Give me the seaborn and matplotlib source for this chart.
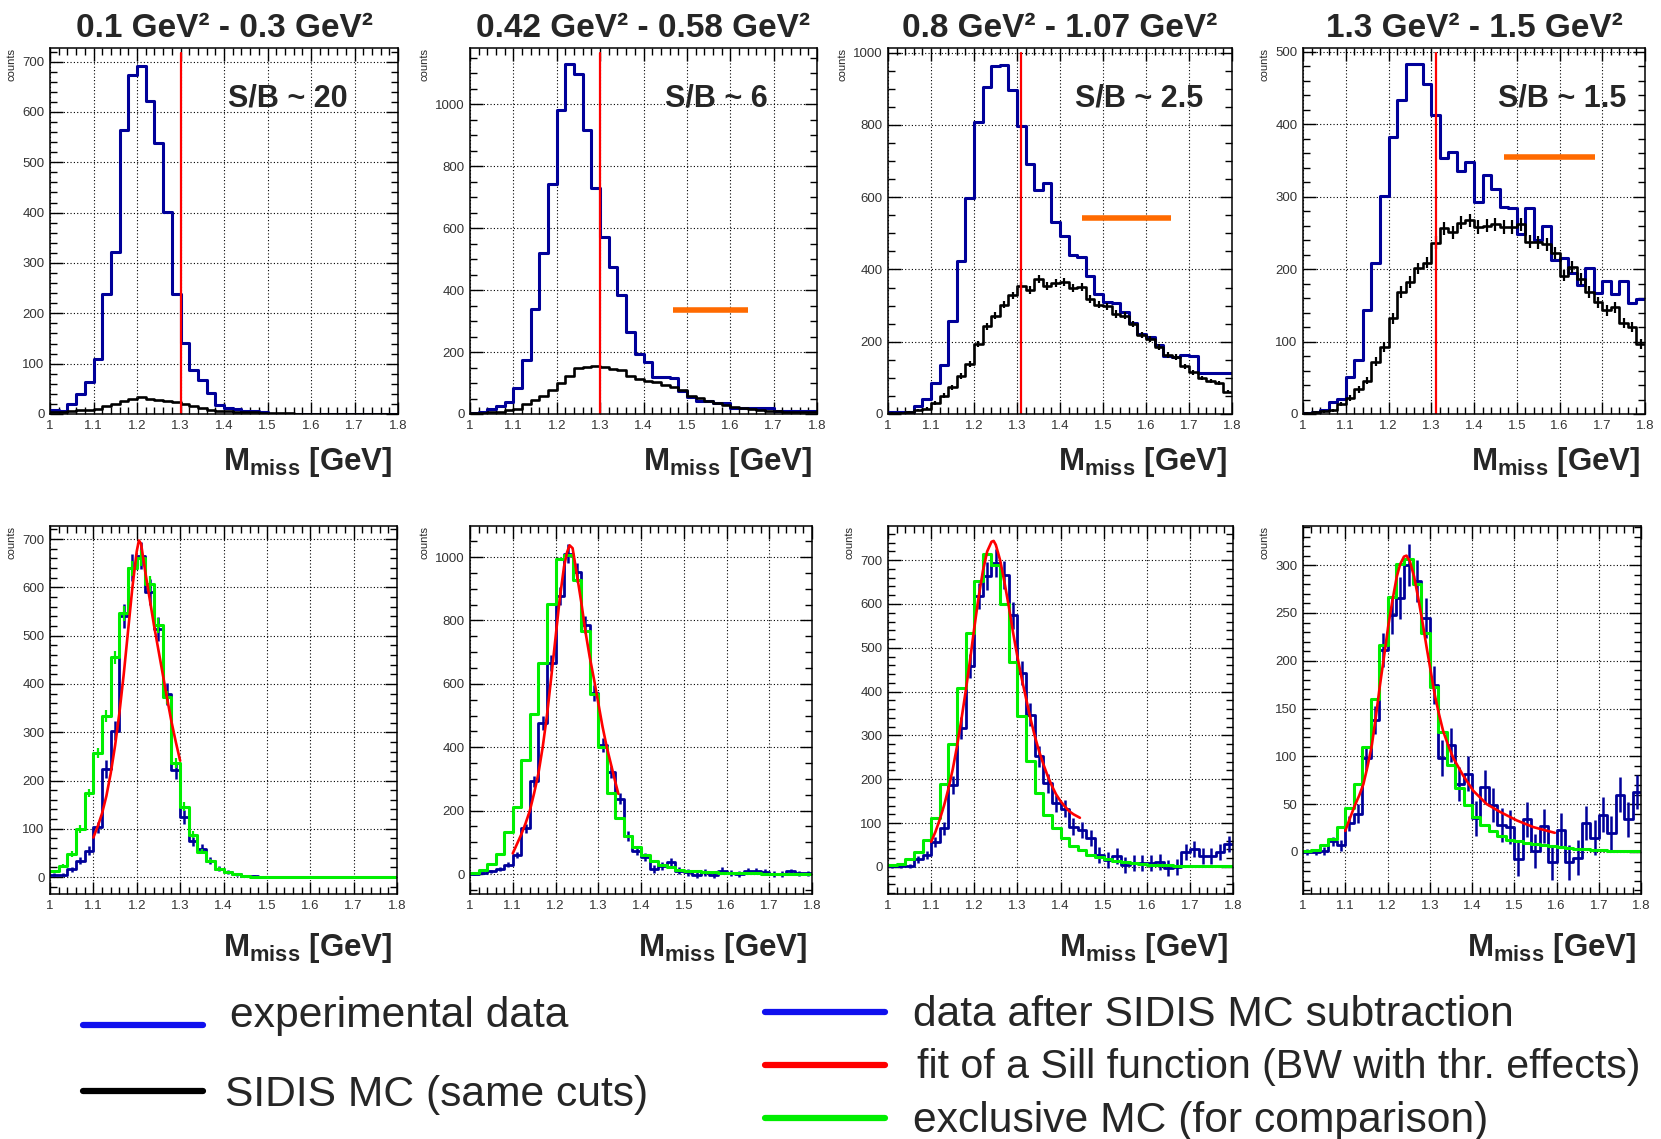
import numpy as np
import matplotlib
matplotlib.use('Agg')
import matplotlib.pyplot as plt
import seaborn as sns
from matplotlib.lines import Line2D
from matplotlib.ticker import MultipleLocator, FuncFormatter

sns.set_style('ticks')
plt.rcParams['font.family'] = ['Liberation Sans', 'DejaVu Sans']
plt.rcParams['mathtext.fontset'] = 'custom'
plt.rcParams['mathtext.rm'] = 'Liberation Sans'
plt.rcParams['mathtext.bf'] = 'Liberation Sans:bold'

# ---- binning (40 bins of 20 MeV) ----
bin_edges = list(np.linspace(1.0, 1.8, 41))
bin_centers = 0.5 * (np.array(bin_edges[:-1]) + np.array(bin_edges[1:]))

titles = ['0.1 GeV\u00b2 - 0.3 GeV\u00b2', '0.42 GeV\u00b2 - 0.58 GeV\u00b2',
          '0.8 GeV\u00b2 - 1.07 GeV\u00b2', '1.3 GeV\u00b2 - 1.5 GeV\u00b2']
sb_labels = ['S/B ~ 20', 'S/B ~ 6', 'S/B ~ 2.5', 'S/B ~ 1.5']
cut_x = [1.30, 1.30, 1.31, 1.31]
bar_y = [None, 334, 542, 355]
bar_x0 = [None, 1.469, 1.45, 1.471]
bar_x1 = [None, 1.642, 1.659, 1.683]

# ---- top row: experimental data (blue) and SIDIS MC (black) ----
exp_q1 = [7, 5, 20, 40, 63, 109, 238, 322, 565, 674, 692, 621, 538, 401, 239, 142, 88, 67, 42, 18,
          11, 10, 6, 5, 3, 0, 0, 0, 0, 0, 0, 0, 0, 0, 0, 0, 0, 0, 0, 0]
sidis_q1 = [4, 4, 5, 7, 8, 9, 15, 20, 25, 30, 34, 30, 28, 25, 23, 20, 15, 11, 7, 5,
            5, 4, 3, 3, 2, 1, 1, 1, 0, 0, 0, 0, 0, 0, 0, 0, 0, 0, 0, 0]
exp_q2 = [3, 5, 16, 27, 38, 83, 175, 338, 521, 743, 980, 1129, 1097, 916, 730, 570, 474, 383, 263, 194,
          167, 121, 119, 117, 75, 54, 43, 43, 36, 36, 19, 19, 19, 19, 19, 9, 9, 9, 9, 9]
sidis_q2 = [2, 3, 5, 8, 13, 16, 32, 45, 59, 76, 99, 124, 148, 153, 156, 151, 146, 142, 124, 113,
            108, 102, 95, 86, 76, 59, 52, 43, 36, 29, 22, 18, 15, 13, 11, 9, 8, 7, 6, 5]
exp_q3 = [5, 6, 6, 21, 42, 86, 137, 258, 423, 597, 809, 904, 964, 967, 898, 798, 692, 621, 639, 532,
          494, 440, 434, 383, 332, 309, 307, 283, 252, 222, 212, 190, 160, 157, 163, 160, 114, 114, 114, 114]
sidis_q3 = [3, 4, 5, 10, 14, 30, 51, 74, 106, 138, 194, 243, 272, 302, 328, 354, 344, 374, 354, 363,
            366, 348, 351, 318, 302, 298, 277, 272, 249, 219, 208, 185, 163, 157, 132, 115, 99, 92, 86, 62]
err_sidis_q3 = [2, 2, 2, 3, 4, 5, 6, 7, 8, 9, 9, 10, 10, 10, 11, 11, 11, 11, 11, 11,
                11, 11, 11, 10, 10, 10, 10, 10, 9, 9, 9, 8, 8, 8, 7, 7, 6, 6, 6, 5]
exp_q4 = [2, 3, 5, 17, 21, 51, 74, 144, 208, 301, 382, 433, 483, 483, 455, 412, 353, 362, 335, 348,
          292, 330, 310, 286, 284, 248, 284, 240, 260, 212, 215, 194, 178, 201, 167, 183, 166, 184, 153, 159]
sidis_q4 = [2, 3, 4, 5, 14, 22, 34, 46, 72, 92, 132, 168, 182, 201, 209, 236, 256, 251, 264, 267,
            258, 260, 262, 258, 258, 262, 238, 237, 234, 222, 191, 203, 186, 168, 154, 143, 147, 126, 120, 97]
err_sidis_q4 = [1, 1, 2, 2, 3, 4, 5, 5, 6, 7, 8, 8, 8, 8, 8, 9, 9, 9, 9, 9,
                9, 9, 9, 9, 9, 9, 9, 9, 9, 8, 8, 8, 8, 8, 8, 8, 8, 7, 7, 7]

# ---- bottom row: data after subtraction (blue), exclusive MC (green), Sill fit (red) ----
sub_q1 = [5, 5, 16, 34, 55, 103, 224, 303, 541, 641, 665, 591, 514, 379, 221, 124, 74, 59, 34, 17,
          10, 6, 3, 3, 0, 0, 0, 0, 0, 0, 0, 0, 0, 0, 0, 0, 0, 0, 0, 0]
err_sub_q1 = [3, 3, 5, 7, 9, 12, 18, 20, 25, 28, 28, 27, 25, 22, 18, 14, 10, 9, 7, 5,
              4, 3, 2, 2, 0, 0, 0, 0, 0, 0, 0, 0, 0, 0, 0, 0, 0, 0, 0, 0]
excl_q1 = [12, 23, 48, 99, 174, 257, 334, 455, 546, 639, 661, 607, 521, 372, 236, 146, 88, 53, 34, 17,
           10, 7, 3, 1, 0, 0, 0, 0, 0, 0, 0, 0, 0, 0, 0, 0, 0, 0, 0, 0]
err_excl_q1 = [3, 4, 6, 8, 9, 11, 12, 14, 15, 16, 16, 16, 15, 13, 11, 9, 7, 5, 4, 3,
               2, 2, 1, 1, 0, 0, 0, 0, 0, 0, 0, 0, 0, 0, 0, 0, 0, 0, 0, 0]
fit_x_q1 = [1.10, 1.11, 1.12, 1.13, 1.14, 1.15, 1.16, 1.17, 1.18, 1.19, 1.20, 1.205, 1.21,
            1.22, 1.23, 1.24, 1.25, 1.26, 1.27, 1.28, 1.29, 1.30]
fit_y_q1 = [82, 105, 132, 168, 215, 272, 340, 420, 510, 600, 675, 697, 690,
            630, 575, 520, 470, 420, 370, 322, 280, 241]

sub_q2 = [0, 3, 8, 16, 29, 61, 145, 292, 475, 665, 876, 1010, 952, 787, 570, 406, 322, 238, 121, 74,
          53, 16, 26, 37, 11, 5, -2, 5, -2, 11, 3, 0, 11, 11, 7, 0, 0, 8, 3, 3]
err_sub_q2 = [2, 3, 4, 6, 8, 10, 14, 18, 22, 25, 28, 30, 30, 28, 25, 22, 20, 18, 16, 14,
              13, 12, 12, 12, 11, 10, 10, 10, 10, 10, 9, 9, 9, 9, 9, 8, 8, 8, 8, 8]
excl_q2 = [2, 13, 32, 63, 132, 213, 359, 504, 665, 852, 995, 1005, 929, 766, 567, 401, 257, 176, 121, 84,
           60, 42, 29, 21, 14, 11, 8, 7, 5, 4, 3, 2, 2, 2, 1, 1, 1, 1, 1, 1]
fit_x_q2 = [1.10, 1.11, 1.12, 1.13, 1.14, 1.15, 1.16, 1.17, 1.18, 1.19, 1.20, 1.21, 1.22, 1.227,
            1.233, 1.24, 1.25, 1.26, 1.27, 1.28, 1.29, 1.30, 1.31, 1.32, 1.33, 1.34, 1.347]
fit_y_q2 = [65, 95, 125, 160, 200, 255, 317, 400, 500, 620, 745, 870, 970, 1015,
            1037, 1028, 945, 860, 765, 685, 615, 540, 465, 400, 345, 290, 253]

sub_q3 = [2, 2, 2, 17, 27, 57, 88, 187, 317, 458, 618, 664, 694, 667, 574, 442, 347, 252, 191, 145,
          133, 92, 84, 65, 27, 15, 25, 4, 8, 8, 8, 11, -2, 0, 33, 40, 25, 25, 33, 53]
err_sub_q3 = [4, 4, 5, 8, 10, 12, 15, 20, 25, 28, 30, 32, 32, 32, 30, 28, 26, 24, 22, 20,
              20, 19, 19, 18, 18, 18, 18, 18, 18, 18, 18, 18, 18, 18, 18, 18, 18, 18, 18, 18]
excl_q3 = [4, 6, 17, 33, 61, 112, 189, 280, 408, 534, 652, 713, 688, 600, 468, 345, 242, 168, 118, 88,
           65, 48, 38, 28, 23, 18, 13, 10, 8, 6, 5, 5, 4, 3, 3, 3, 2, 2, 2, 2]
fit_x_q3 = [1.10, 1.11, 1.12, 1.13, 1.14, 1.15, 1.16, 1.17, 1.18, 1.19, 1.20, 1.21, 1.22, 1.23,
            1.24, 1.245, 1.25, 1.26, 1.27, 1.28, 1.29, 1.30, 1.31, 1.32, 1.33, 1.34, 1.35, 1.36,
            1.37, 1.38, 1.39, 1.40, 1.41, 1.42, 1.43, 1.445]
fit_y_q3 = [57, 80, 108, 140, 178, 222, 275, 335, 400, 470, 545, 615, 675, 720,
            742, 744, 735, 700, 650, 595, 535, 480, 430, 385, 340, 300, 265, 235,
            208, 185, 165, 150, 138, 127, 120, 112]

sub_q4 = [0, 0, 1, 11, 7, 30, 40, 98, 138, 211, 248, 266, 300, 283, 245, 175, 98, 112, 71, 82,
          35, 68, 49, 28, 26, -7, 34, 1, 27, -11, 23, -11, -6, 30, 15, 39, 20, 60, 34, 63]
err_sub_q4 = [3, 3, 4, 5, 6, 8, 10, 12, 15, 18, 20, 22, 22, 22, 21, 20, 19, 18, 18, 18,
              18, 18, 18, 18, 18, 18, 18, 18, 18, 18, 18, 18, 18, 18, 18, 18, 18, 18, 18, 18]
excl_q4 = [1, 2, 7, 14, 26, 46, 71, 110, 160, 216, 267, 301, 306, 280, 229, 173, 125, 91, 67, 49,
           37, 28, 22, 17, 13, 11, 9, 8, 7, 6, 5, 4, 3, 3, 2, 2, 1, 1, 1, 1]
fit_x_q4 = [1.10, 1.11, 1.123, 1.133, 1.143, 1.153, 1.163, 1.172, 1.182, 1.192, 1.202, 1.212, 1.222,
            1.23, 1.239, 1.245, 1.253, 1.263, 1.273, 1.283, 1.293, 1.30, 1.312, 1.322, 1.332, 1.345,
            1.356, 1.379, 1.403, 1.435, 1.466, 1.506, 1.545, 1.596]
fit_y_q4 = [22, 34, 49, 59, 71, 90, 112, 140, 174, 205, 237, 264, 288,
            301, 309, 310, 304, 288, 265, 240, 213, 195, 164, 144, 126, 110,
            98, 80, 64, 50, 42, 33, 26, 20]

# ---- layout (pixel boxes of the panels in the 1661x1139 canvas) ----
W, H = 1661, 1139
top_boxes = [(50, 398), (470, 817), (888, 1232), (1303, 1645)]
bot_boxes = [(50, 397), (470, 812), (888, 1233), (1303, 1641)]
top_ylims = [(0, 727), (0, 1181), (0, 1013), (0, 505)]
top_ystep = [(100, 20), (200, 50), (200, 50), (100, 20)]
bot_ylims = [(-35, 727), (-63, 1098), (-62, 778), (-44, 341)]
bot_ystep = [(100, 20), (200, 50), (100, 20), (50, 10)]

NAVY = '#000099'
GREEN = '#00ee00'
RED = '#ff0000'
ORANGE = '#ff6a00'

fig = plt.figure(figsize=(W / 100, H / 100), dpi=100)


def px_axes(x0, x1, ytop, ybot):
    return fig.add_axes([x0 / W, 1 - ybot / H, (x1 - x0) / W, (ybot - ytop) / H])


def step_hist(ax, vals, color, lw):
    sns.histplot(x=bin_centers, weights=vals, bins=bin_edges, element='step', fill=False,
                 color=color, linewidth=lw, ax=ax)


def style_axes(ax, ylim, ysteps, pad):
    ax.set_xlim(1.0, 1.8)
    ax.set_ylim(*ylim)
    ax.xaxis.set_major_locator(MultipleLocator(0.1))
    ax.xaxis.set_minor_locator(MultipleLocator(0.02))
    ax.yaxis.set_major_locator(MultipleLocator(ysteps[0]))
    ax.yaxis.set_minor_locator(MultipleLocator(ysteps[1]))
    ax.xaxis.set_major_formatter(FuncFormatter(lambda v, p: f'{v:g}'))
    ax.tick_params(which='both', direction='in', top=True, right=True,
                   labelsize=9.5, labelcolor='#333333', color='black', width=1)
    ax.tick_params(which='major', length=9, pad=4)
    ax.tick_params(which='minor', length=5)
    ax.grid(True, which='major', linestyle=(0, (1, 2)), color='black', linewidth=0.8)
    for s in ax.spines.values():
        s.set_linewidth(1.1)
        s.set_color('black')
    ax.set_ylabel('counts', loc='top', fontsize=8, labelpad=4)
    ax.set_xlabel(r'$\mathbf{M_{miss}}$ [GeV]', fontsize=22.5, fontweight='bold',
                  labelpad=pad, ha='right')
    ax.xaxis.label.set_x(0.985)


top_exp = [exp_q1, exp_q2, exp_q3, exp_q4]
top_mc = [sidis_q1, sidis_q2, sidis_q3, sidis_q4]
top_mc_err = [None, None, err_sidis_q3, err_sidis_q4]
sb_right = [0.856, 0.859, 0.916, 0.947]

for i in range(4):
    ax = px_axes(top_boxes[i][0], top_boxes[i][1], 48, 414)
    step_hist(ax, top_exp[i], NAVY, 2.2)
    step_hist(ax, top_mc[i], 'black', 1.9)
    if top_mc_err[i] is not None:
        ax.errorbar(bin_centers, top_mc[i], yerr=top_mc_err[i], fmt='none',
                    ecolor='black', elinewidth=1.6)
    ax.axvline(cut_x[i], ymax=0.985, color=RED, linewidth=1.6)
    if bar_y[i] is not None:
        ax.hlines(bar_y[i], bar_x0[i], bar_x1[i], color=ORANGE, linewidth=4)
    ax.text(sb_right[i], 0.863, sb_labels[i], transform=ax.transAxes, ha='right',
            va='center', fontsize=22, fontweight='bold')
    ax.set_title(titles[i], fontsize=24, fontweight='bold', pad=8)
    style_axes(ax, top_ylims[i], top_ystep[i], 10)

bot_sub = [sub_q1, sub_q2, sub_q3, sub_q4]
bot_err = [err_sub_q1, err_sub_q2, err_sub_q3, err_sub_q4]
bot_excl = [excl_q1, excl_q2, excl_q3, excl_q4]
bot_excl_err = [err_excl_q1, None, None, None]
bot_fx = [fit_x_q1, fit_x_q2, fit_x_q3, fit_x_q4]
bot_fy = [fit_y_q1, fit_y_q2, fit_y_q3, fit_y_q4]

for i in range(4):
    ax = px_axes(bot_boxes[i][0], bot_boxes[i][1], 526, 894)
    step_hist(ax, bot_sub[i], NAVY, 2.0)
    ax.errorbar(bin_centers, bot_sub[i], yerr=bot_err[i], fmt='none',
                ecolor=NAVY, elinewidth=1.8)
    step_hist(ax, bot_excl[i], GREEN, 2.2)
    if bot_excl_err[i] is not None:
        ax.errorbar(bin_centers, bot_excl[i], yerr=bot_excl_err[i], fmt='none',
                    ecolor=GREEN, elinewidth=1.6)
    sns.lineplot(x=bot_fx[i], y=bot_fy[i], color=RED, linewidth=1.9, ax=ax,
                 errorbar=None, sort=True)
    style_axes(ax, bot_ylims[i], bot_ystep[i], 14)

# ---- legend at the bottom ----
legend_left = [('experimental data', '#1010ee', 1025, 1016, 230, 30.7),
               ('SIDIS MC (same cuts)', 'black', 1091, 1095, 225, 30.7)]
legend_right = [('data after SIDIS MC subtraction', '#1010ee', 1012, 1015, 913, 30.7),
                ('fit of a Sill function (BW with thr. effects)', RED, 1065, 1067, 917, 29.6),
                ('exclusive MC (for comparison)', GREEN, 1118, 1121, 913, 30.7)]

for label, col, ly, ty, tx, fs in legend_left:
    fig.add_artist(Line2D([83 / W, 203 / W], [1 - ly / H, 1 - ly / H], color=col,
                          linewidth=4.5, transform=fig.transFigure))
    fig.text(tx / W, 1 - ty / H, label, fontsize=fs, ha='left', va='center')
for label, col, ly, ty, tx, fs in legend_right:
    fig.add_artist(Line2D([765 / W, 885 / W], [1 - ly / H, 1 - ly / H], color=col,
                          linewidth=4.5, transform=fig.transFigure))
    fig.text(tx / W, 1 - ty / H, label, fontsize=fs, ha='left', va='center')

fig.savefig('out.png', dpi=100)
